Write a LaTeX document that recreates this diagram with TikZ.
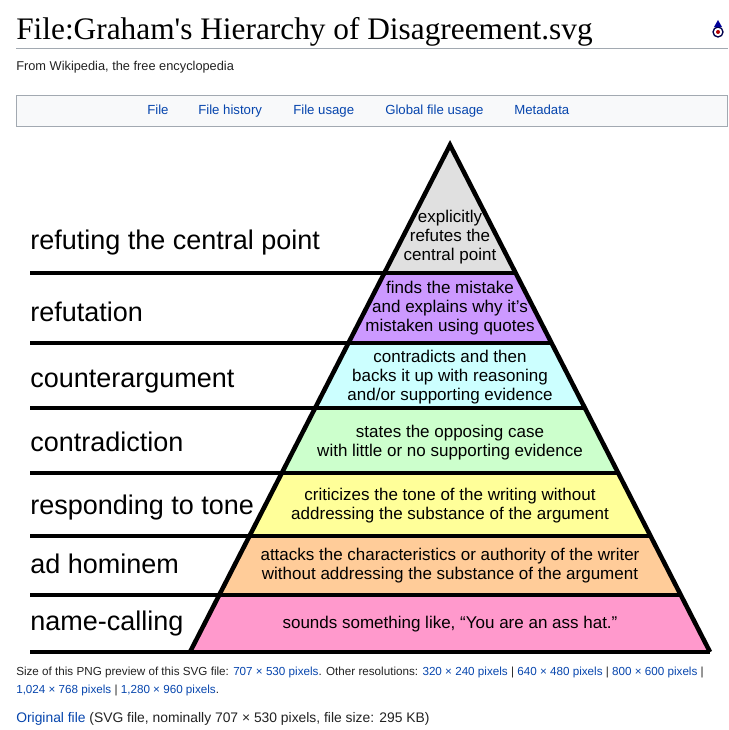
\documentclass[tikz,border=0pt]{standalone}
\usepackage{fontspec}
\usepackage{xcolor}
\setmainfont{Liberation Sans}
\newfontfamily\titlefont{Liberation Serif}
\usetikzlibrary{positioning}
\definecolor{linkblue}{HTML}{0645AD}
\definecolor{wikigray}{HTML}{A2A9B1}
\definecolor{tabfill}{HTML}{F8F9FA}
\definecolor{pagetext}{HTML}{222222}
\definecolor{lvlgray}{HTML}{E0E0E0}
\definecolor{lvlpurple}{HTML}{CC99FF}
\definecolor{lvlcyan}{HTML}{CCFFFF}
\definecolor{lvlgreen}{HTML}{CCFFCC}
\definecolor{lvlyellow}{HTML}{FFFF99}
\definecolor{lvlorange}{HTML}{FFCC99}
\definecolor{lvlpink}{HTML}{FF99CC}
\tikzset{
  tier/.style  = {font=\fontsize{20.25}{24}\selectfont, anchor=base west, inner sep=0pt},
  desc/.style  = {font=\fontsize{12.75}{14.25}\selectfont, align=center, inner sep=0pt},
  tab/.style   = {font=\fontsize{9.9}{11}\selectfont, text=linkblue, anchor=base west, inner sep=0pt},
  small/.style = {font=\fontsize{8.75}{11}\selectfont, text=pagetext, anchor=base west, inner sep=0pt},
  rule/.style  = {line width=3.4pt, black},
}

\begin{document}
\begin{tikzpicture}[x=0.75pt, y=-0.75pt]
  \useasboundingbox (0,0) rectangle (728,730);

  % page header
  \node[anchor=base west, inner sep=0pt, font=\titlefont\fontsize{23.5}{28}\selectfont] (title) at (16,40)
    {File:Graham's Hierarchy of Disagreement.svg};
  \coordinate (hl) at (16,49);
  \coordinate (hr) at (728,49);
  \draw[wikigray, line width=0.75pt] (hl) -- (hr);
  \node[small, font=\fontsize{9.6}{11}\selectfont] (sub) at (16,71) {From Wikipedia, the free encyclopedia};

  % wikimedia icon
  \draw[fill=white, draw=black!70!blue, line width=1pt] (718,32) circle [radius=5];
  \fill[red!70!black] (718,32) circle [radius=2];
  \fill[blue!60!black] (718,20) -- (722,27) -- (714,27) -- cycle;

  % tabs
  \node[draw=wikigray, fill=tabfill, line width=0.75pt, minimum width=533pt, minimum height=23.25pt,
        anchor=north west, inner sep=0pt] (tabs) at (16,95) {};
  \node[tab] (t1) at (147,115) {File};
  \node[tab] (t2) at (198,115) {File history};
  \node[tab] (t3) at (293,115) {File usage};
  \node[tab] (t4) at (385,115) {Global file usage};
  \node[tab] (t5) at (514,115) {Metadata};

  % coloured levels
  \coordinate (apex) at (450,145);
  \coordinate (l1) at (384,273);  \coordinate (r1) at (516,273);
  \coordinate (l2) at (348,343);  \coordinate (r2) at (552,343);
  \coordinate (l3) at (315,408);  \coordinate (r3) at (585,408);
  \coordinate (l4) at (282,473);  \coordinate (r4) at (618,473);
  \coordinate (l5) at (249,536);  \coordinate (r5) at (651,536);
  \coordinate (l6) at (219,595);  \coordinate (r6) at (681,595);
  \coordinate (l7) at (190,652);  \coordinate (r7) at (710,652);

  \fill[lvlgray]   (apex) -- (l1) -- (r1) -- cycle;
  \fill[lvlpurple] (l1) -- (l2) -- (r2) -- (r1) -- cycle;
  \fill[lvlcyan]   (l2) -- (l3) -- (r3) -- (r2) -- cycle;
  \fill[lvlgreen]  (l3) -- (l4) -- (r4) -- (r3) -- cycle;
  \fill[lvlyellow] (l4) -- (l5) -- (r5) -- (r4) -- cycle;
  \fill[lvlorange] (l5) -- (l6) -- (r6) -- (r5) -- cycle;
  \fill[lvlpink]   (l6) -- (l7) -- (r7) -- (r6) -- cycle;

  % rules
  \coordinate (s1) at (30,273);
  \coordinate (s2) at (30,343);
  \coordinate (s3) at (30,408);
  \coordinate (s4) at (30,473);
  \coordinate (s5) at (30,536);
  \coordinate (s6) at (30,595);
  \coordinate (s7) at (30,652);
  \draw[rule] (s1) -- (r1);
  \draw[rule] (s2) -- (r2);
  \draw[rule] (s3) -- (r3);
  \draw[rule] (s4) -- (r4);
  \draw[rule] (s5) -- (r5);
  \draw[rule] (s6) -- (r6);
  \draw[rule] (s7) -- (r7);
  \draw[rule, line join=miter] (l7) -- (apex) -- (r7);

  % names on the left
  \node[tier] (n1) at (30,250) {refuting the central point};
  \node[tier] (n2) at (30,321) {refutation};
  \node[tier] (n3) at (30,387) {counterargument};
  \node[tier] (n4) at (30,451) {contradiction};
  \node[tier] (n5) at (30,514) {responding to tone};
  \node[tier] (n6) at (30,573) {ad hominem};
  \node[tier] (n7) at (30,630) {name-calling};

  % descriptions
  \node[desc] (d1) at (450,237) {explicitly\\refutes the\\central point};
  \node[desc] (d2) at (450,308) {finds the mistake\\and explains why it's\\mistaken using quotes};
  \node[desc] (d3) at (450,377) {contradicts and then\\backs it up with reasoning\\and/or supporting evidence};
  \node[desc] (d4) at (450,443) {states the opposing case\\with little or no supporting evidence};
  \node[desc] (d5) at (450,506) {criticizes the tone of the writing without\\addressing the substance of the argument};
  \node[desc] (d6) at (450,566) {attacks the characteristics or authority of the writer\\without addressing the substance of the argument};
  \node[desc] (d7) at (450,624) {sounds something like, “You are an ass hat.”};

  % footer
  \node[small] (f1) at (16,675) {Size of this PNG preview of this SVG file: \textcolor{linkblue}{707 × 530 pixels}. Other resolutions: \textcolor{linkblue}{320 × 240 pixels} | \textcolor{linkblue}{640 × 480 pixels} | \textcolor{linkblue}{800 × 600 pixels} |};
  \node[small] (f2) at (16,693) {\textcolor{linkblue}{1,024 × 768 pixels} | \textcolor{linkblue}{1,280 × 960 pixels}.};
  \node[small, font=\fontsize{10.4}{12}\selectfont] (f3) at (16,722) {\textcolor{linkblue}{Original file} (SVG file, nominally 707 × 530 pixels, file size: 295 KB)};
\end{tikzpicture}
\end{document}
